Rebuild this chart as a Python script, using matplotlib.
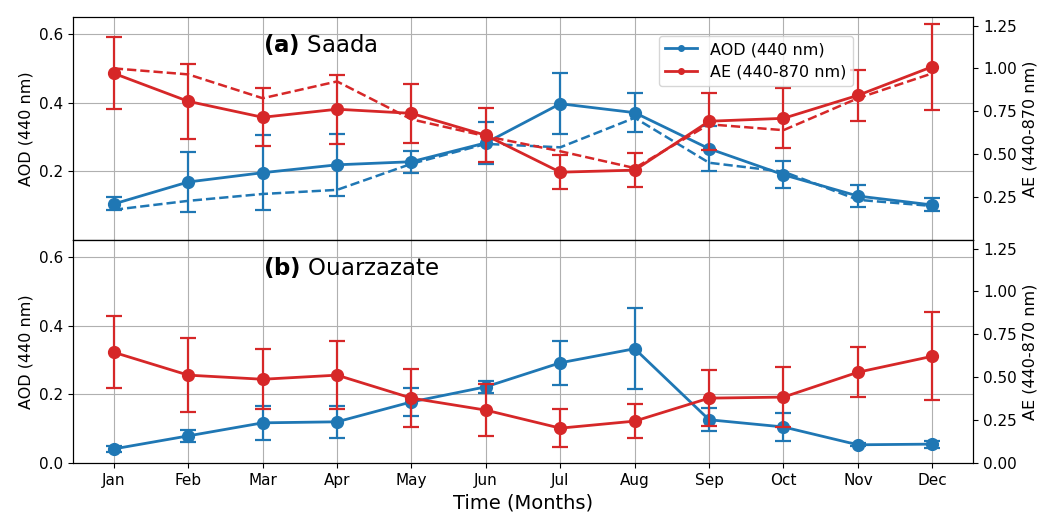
import numpy as np
import matplotlib
matplotlib.use("Agg")
import matplotlib.pyplot as plt
from matplotlib.lines import Line2D

months = ["Jan", "Feb", "Mar", "Apr", "May", "Jun", "Jul", "Aug", "Sep", "Oct", "Nov", "Dec"]

# (a) Saada
saada_aod = [0.105, 0.169, 0.196, 0.219, 0.228, 0.283, 0.397, 0.371, 0.266, 0.190, 0.128, 0.102]
saada_aod_err = [0.019, 0.088, 0.110, 0.090, 0.032, 0.062, 0.089, 0.057, 0.065, 0.040, 0.032, 0.019]
saada_aod_dash = [0.088, 0.114, 0.134, 0.146, 0.222, 0.280, 0.270, 0.356, 0.225, 0.199, 0.117, 0.099]
saada_ae = [0.971, 0.808, 0.715, 0.762, 0.738, 0.610, 0.395, 0.407, 0.692, 0.709, 0.843, 1.010]
saada_ae_err = [0.21, 0.22, 0.17, 0.20, 0.17, 0.157, 0.10, 0.10, 0.165, 0.175, 0.15, 0.25]
saada_ae_dash = [1.000, 0.965, 0.826, 0.924, 0.703, 0.605, 0.517, 0.419, 0.674, 0.640, 0.826, 0.971]

# (b) Ouarzazate
ouarz_aod = [0.041, 0.079, 0.117, 0.120, 0.178, 0.222, 0.292, 0.333, 0.126, 0.105, 0.053, 0.055]
ouarz_aod_err = [0.008, 0.017, 0.050, 0.047, 0.040, 0.018, 0.064, 0.118, 0.033, 0.041, 0.004, 0.010]
ouarz_ae = [0.645, 0.512, 0.488, 0.512, 0.378, 0.308, 0.203, 0.244, 0.378, 0.384, 0.529, 0.622]
ouarz_ae_err = [0.21, 0.215, 0.175, 0.20, 0.17, 0.15, 0.11, 0.10, 0.163, 0.175, 0.145, 0.256]

blue = "#1f77b4"
red = "#d62728"
x = np.arange(len(months))

plt.rcParams["xtick.labelsize"] = 11
plt.rcParams["ytick.labelsize"] = 11

fig, (ax1, ax2) = plt.subplots(2, 1, figsize=(10.42, 5.13), dpi=100, sharex=True)
fig.subplots_adjust(left=0.070, right=0.934, top=0.967, bottom=0.0975, hspace=0)

eb = dict(marker="o", markersize=8.5, linewidth=2, capsize=6, elinewidth=1.6, capthick=1.6)


def draw_panel(ax, aod, aod_err, ae, ae_err, title, aod_dash=None, ae_dash=None, top=False):
    ax.errorbar(x, aod, yerr=aod_err, color=blue, **eb)
    if aod_dash is not None:
        ax.plot(x, aod_dash, "--", color=blue, linewidth=1.8)
    ax.set_ylim(0, 0.65)
    ax.set_ylabel("AOD (440 nm)", fontsize=11.5)
    ax.grid(True, color="#b0b0b0", linewidth=0.8)
    ax.text(0.211, 0.878, r"$\bf{" + title[0] + "}$ " + title[1], transform=ax.transAxes,
            fontsize=16.5, va="center", ha="left")

    axr = ax.twinx()
    axr.errorbar(x, ae, yerr=ae_err, color=red, **eb)
    if ae_dash is not None:
        axr.plot(x, ae_dash, "--", color=red, linewidth=1.8)
    axr.set_ylim(0, 1.3)
    axr.set_ylabel("AE (440-870 nm)", fontsize=11.5)
    if top:
        ax.set_yticks([0.2, 0.4, 0.6])
        axr.set_yticks([0.25, 0.5, 0.75, 1.0, 1.25])
    else:
        ax.set_yticks([0.0, 0.2, 0.4, 0.6])
        axr.set_yticks([0.0, 0.25, 0.5, 0.75, 1.0, 1.25])
    return axr


ax1r = draw_panel(ax1, saada_aod, saada_aod_err, saada_ae, saada_ae_err, ("(a)", "Saada"),
                  saada_aod_dash, saada_ae_dash, top=True)
ax2r = draw_panel(ax2, ouarz_aod, ouarz_aod_err, ouarz_ae, ouarz_ae_err, ("(b)", "Ouarzazate"))

ax1.tick_params(axis="x", which="both", length=0, labelbottom=False)
ax2.set_xticks(x)
ax2.set_xticklabels(months)
ax2.set_xlabel("Time (Months)", fontsize=14)

handles = [Line2D([0], [0], color=blue, marker="o", markersize=4, linewidth=2),
           Line2D([0], [0], color=red, marker="o", markersize=4, linewidth=2)]
ax1r.legend(handles, ["AOD (440 nm)", "AE (440-870 nm)"], loc="upper right",
            bbox_to_anchor=(0.875, 0.952), fontsize=11.5)

fig.savefig("out.png", dpi=100)
